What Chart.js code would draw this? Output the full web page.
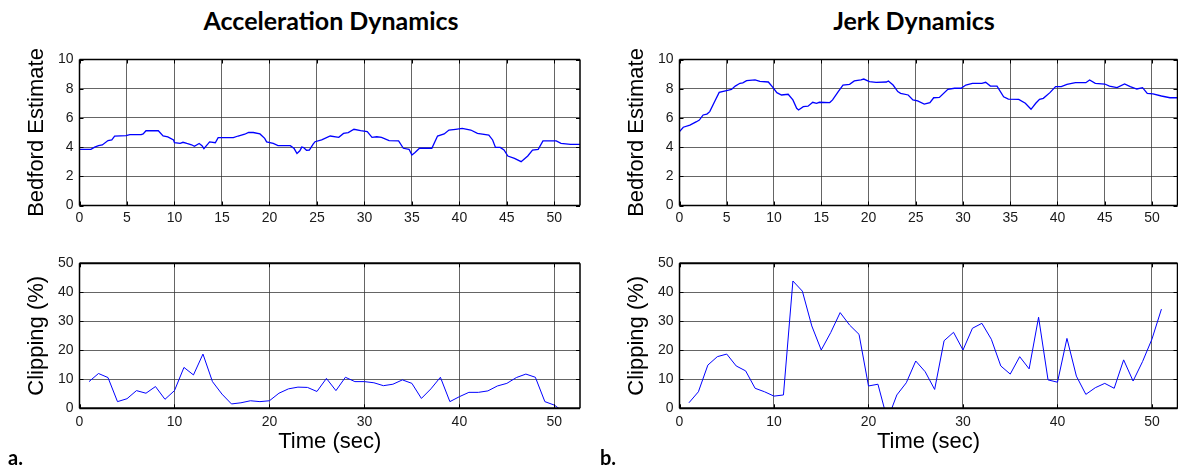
<!DOCTYPE html>
<html>
<head>
<meta charset="utf-8">
<script src="https://cdn.jsdelivr.net/npm/chart.js@4.4.1/dist/chart.umd.min.js"></script>
<style>
  body { margin: 0; background: #fff; }
  #wrap { position: relative; width: 1178px; height: 468px; overflow: hidden; }
  canvas { position: absolute; }
  .ttl { position: absolute; top: 0; width: 400px; height: 40px; text-align: center;
         font-family: Lato, sans-serif; font-weight: bold; font-size: 25px; line-height: 40px; color: #000; }
  .tag { position: absolute; top: 445px; font-family: Lato, sans-serif; font-weight: bold;
         font-size: 20px; line-height: 24px; color: #000; }
</style>
</head>
<body>
<div id="wrap">
  <div class="ttl" style="left:131px">Acceleration Dynamics</div>
  <div class="ttl" style="left:714px">Jerk Dynamics</div>
  <canvas id="accTop" width="590" height="190" style="left:0;top:40px"></canvas>
  <canvas id="jerkTop" width="578" height="190" style="left:600px;top:40px"></canvas>
  <canvas id="accBot" width="590" height="228" style="left:0;top:240px"></canvas>
  <canvas id="jerkBot" width="578" height="228" style="left:600px;top:240px"></canvas>
  <div class="tag" style="left:8px">a.</div>
  <div class="tag" style="left:600px">b.</div>
</div>
<script>
// Bedford estimate, acceleration dynamics (time in sec)
const accelTime = [0, 1.2, 1.6, 2.0, 2.4, 3.0, 3.4, 3.7, 4.9, 5.3, 6.5, 6.7, 7.0, 8.3, 8.8, 9.3, 9.9, 10.0,
  10.6, 10.9, 11.3, 11.8, 12.1, 12.6, 12.9, 13.1, 13.5, 13.7, 14.3, 14.6, 16.2, 16.7, 17.4, 17.8, 18.3,
  19.0, 19.5, 19.7, 20.4, 20.9, 22.2, 22.6, 22.9, 23.2, 23.4, 23.6, 23.9, 24.2, 24.6, 24.8, 25.5, 26.4,
  27.3, 27.8, 28.3, 28.9, 29.6, 30.3, 30.8, 31.3, 31.8, 32.6, 33.6, 34.1, 34.7, 35.0, 35.3, 35.8, 37.1,
  37.7, 38.4, 38.9, 39.6, 40.3, 41.2, 41.9, 43.1, 43.5, 43.8, 44.3, 44.7, 45.1, 45.8, 46.5, 47.2, 47.7,
  48.3, 48.8, 50.2, 50.7, 51.7, 52.7];
const accelBedford = [3.85, 3.85, 4.0, 4.1, 4.15, 4.45, 4.5, 4.75, 4.78, 4.85, 4.85, 4.9, 5.12, 5.12, 4.76,
  4.7, 4.49, 4.3, 4.25, 4.33, 4.25, 4.16, 4.05, 4.25, 4.1, 3.9, 4.2, 4.36, 4.3, 4.65, 4.65, 4.76, 4.88,
  5.0, 5.0, 4.9, 4.6, 4.36, 4.25, 4.1, 4.1, 3.9, 3.56, 3.75, 4.0, 3.97, 3.78, 3.8, 4.2, 4.37, 4.49, 4.76,
  4.67, 4.94, 4.99, 5.22, 5.13, 5.06, 4.67, 4.71, 4.67, 4.44, 4.42, 3.92, 3.85, 3.46, 3.62, 3.92, 3.92,
  4.76, 4.9, 5.17, 5.22, 5.28, 5.17, 4.94, 4.83, 4.49, 3.98, 3.98, 3.8, 3.39, 3.23, 3.0, 3.39, 3.8,
  3.85, 4.42, 4.42, 4.26, 4.19, 4.19];

// Bedford estimate, jerk dynamics
const jerkTime = [0, 0.4, 1.1, 1.8, 2.1, 2.5, 2.9, 3.2, 3.8, 4.2, 5.2, 5.5, 5.9, 6.4, 6.7, 7.1, 8.0, 8.5,
  9.4, 9.9, 10.3, 10.8, 11.5, 12.0, 12.4, 12.6, 13.1, 13.6, 14.1, 14.5, 14.8, 15.9, 16.2, 16.8, 17.3,
  18.0, 18.5, 19.2, 19.5, 20.1, 20.8, 21.9, 22.1, 22.6, 23.1, 23.4, 24.2, 24.7, 25.2, 25.9, 26.5, 26.9,
  27.5, 28.4, 29.1, 29.8, 30.3, 31.0, 32.0, 32.4, 32.9, 33.6, 34.3, 34.8, 35.9, 36.6, 37.2, 37.7, 38.1,
  38.5, 39.2, 39.8, 40.4, 41.0, 41.9, 43.0, 43.4, 44.0, 45.0, 45.5, 46.3, 47.1, 47.7, 48.4, 49.0, 49.5,
  50.1, 51.0, 51.9, 52.7];
const jerkBedford = [5.06, 5.36, 5.51, 5.74, 5.85, 6.2, 6.26, 6.43, 7.23, 7.75, 7.91, 7.95, 8.18, 8.37, 8.4,
  8.55, 8.6, 8.5, 8.46, 8.07, 7.73, 7.57, 7.62, 7.23, 6.66, 6.54, 6.77, 6.8, 7.07, 7.0, 7.07, 7.05, 7.23,
  7.8, 8.25, 8.3, 8.53, 8.6, 8.66, 8.48, 8.44, 8.46, 8.53, 8.25, 7.8, 7.68, 7.57, 7.23, 7.16, 6.95, 7.04,
  7.38, 7.4, 7.96, 8.03, 8.03, 8.25, 8.37, 8.37, 8.44, 8.18, 8.18, 7.45, 7.29, 7.27, 7.0, 6.59, 7.0, 7.27,
  7.34, 7.73, 8.14, 8.14, 8.3, 8.41, 8.41, 8.6, 8.37, 8.32, 8.18, 8.07, 8.32, 8.14, 7.98, 8.07, 7.68,
  7.64, 7.5, 7.38, 7.38];

// Clipping (%), one value per second
const clipTime = [1, 2, 3, 4, 5, 6, 7, 8, 9, 10, 11, 12, 13, 14, 15, 16, 17, 18, 19, 20, 21, 22, 23, 24, 25,
  26, 27, 28, 29, 30, 31, 32, 33, 34, 35, 36, 37, 38, 39, 40, 41, 42, 43, 44, 45, 46, 47, 48, 49, 50, 51];
const accelClip = [9.2, 12.0, 10.6, 2.3, 3.3, 6.1, 5.2, 7.5, 3.1, 6.1, 14.1, 11.5, 18.7, 9.2, 4.9, 1.5, 1.9,
  2.6, 2.3, 2.6, 5.2, 6.7, 7.3, 7.2, 5.8, 10.3, 6.1, 10.7, 9.2, 9.2, 8.8, 7.8, 8.3, 9.8, 8.6, 3.4, 6.7,
  10.7, 2.3, 4.0, 5.5, 5.5, 6.0, 7.7, 8.6, 10.6, 11.8, 10.7, 2.3, 1.1, -1.3];
const jerkClip = [1.9, 5.7, 14.9, 17.8, 18.7, 14.6, 12.9, 6.9, 5.7, 4.2, 4.6, 43.9, 40.4, 28.4, 20.1, 26.1,
  33.0, 28.7, 25.5, 7.7, 8.3, -4.0, 4.6, 8.8, 16.3, 12.6, 6.5, 23.3, 26.2, 20.1, 27.6, 29.3, 23.8, 14.6,
  11.8, 17.8, 13.6, 31.4, 9.8, 9.0, 24.1, 11.1, 4.8, 7.1, 8.6, 6.9, 16.7, 9.4, 16.1, 23.9, 34.2];

const bedfordTicks = [0, 2, 4, 6, 8, 10];
const clipTicks = [0, 10, 20, 30, 40, 50];
const timeTicksTop = [0, 5, 10, 15, 20, 25, 30, 35, 40, 45, 50];
const timeTicksBottom = [0, 10, 20, 30, 40, 50];
const timeMax = 52.7;

const axisFont = { family: "'Liberation Sans', Arial, sans-serif" };

// box around the plot with small inward tick marks (MATLAB style)
const frame = {
  id: 'frame',
  afterDraw(chart, args, opts) {
    const { ctx, chartArea: a, scales } = chart;
    ctx.save();
    ctx.strokeStyle = '#000';
    ctx.lineWidth = 1;
    ctx.beginPath();
    scales.x.ticks.forEach(t => {
      const p = Math.round(scales.x.getPixelForValue(t.value)) + 0.5;
      ctx.moveTo(p, a.top); ctx.lineTo(p, a.top + 4);
      ctx.moveTo(p, a.bottom); ctx.lineTo(p, a.bottom - 4);
    });
    scales.y.ticks.forEach(t => {
      const p = Math.round(scales.y.getPixelForValue(t.value)) + 0.5;
      ctx.moveTo(a.left, p); ctx.lineTo(a.left + 4, p);
      ctx.moveTo(a.right, p); ctx.lineTo(a.right - 4, p);
    });
    ctx.stroke();
    ctx.lineWidth = opts.h;
    ctx.beginPath();
    ctx.moveTo(a.left, a.top); ctx.lineTo(a.right, a.top);
    ctx.moveTo(a.left, a.bottom); ctx.lineTo(a.right, a.bottom);
    ctx.stroke();
    ctx.lineWidth = opts.v;
    ctx.beginPath();
    ctx.moveTo(a.left, a.top); ctx.lineTo(a.left, a.bottom);
    ctx.moveTo(a.right, a.top); ctx.lineTo(a.right, a.bottom);
    ctx.stroke();
    ctx.restore();
  }
};

function makeChart(id, xs, ys, o) {
  const ctx = document.getElementById(id).getContext('2d');
  return new Chart(ctx, {
    type: 'line',
    data: {
      datasets: [{
        data: xs.map((x, i) => ({ x: x, y: ys[i] })),
        borderColor: '#0000ff',
        borderWidth: o.lineWidth,
        pointRadius: 0,
        tension: 0,
        fill: false
      }]
    },
    plugins: [frame],
    options: {
      responsive: false,
      animation: false,
      layout: { padding: { left: 0, right: o.padRight, top: o.padTop, bottom: 0 } },
      plugins: {
        legend: { display: false },
        tooltip: { enabled: false },
        frame: { h: o.frameH, v: 1.5 }
      },
      scales: {
        x: {
          type: 'linear',
          min: 0,
          max: timeMax,
          afterBuildTicks: s => { s.ticks = o.xTicks.map(v => ({ value: v })); },
          afterFit: s => { s.height = o.xHeight; },
          border: { display: false },
          grid: { color: 'rgba(50,50,50,0.75)', lineWidth: 1, drawTicks: false },
          ticks: { padding: o.xPad, color: '#1a1a1a', maxRotation: 0, font: { ...axisFont, size: 14 } },
          title: {
            display: !!o.xTitle,
            text: o.xTitle,
            color: '#000',
            padding: { top: 0, bottom: 13.3 },
            font: { ...axisFont, size: 22 }
          }
        },
        y: {
          min: 0,
          max: o.yTicks[o.yTicks.length - 1],
          afterBuildTicks: s => { s.ticks = o.yTicks.map(v => ({ value: v })); },
          afterFit: s => { s.width = 79.5; },
          border: { display: false },
          grid: { color: 'rgba(50,50,50,0.75)', lineWidth: 1, drawTicks: false },
          ticks: { padding: 6, color: '#1a1a1a', font: { ...axisFont, size: 14 } },
          title: {
            display: true,
            text: o.yTitle,
            color: '#000',
            padding: { top: 23.8, bottom: 0 },
            font: { ...axisFont, size: 22 }
          }
        }
      }
    }
  });
}

const topOpts = { lineWidth: 1.3, padTop: 19.5, xHeight: 24.5, xPad: 4, frameH: 1.5,
  yTicks: bedfordTicks, xTicks: timeTicksTop, yTitle: 'Bedford Estimate', xTitle: '' };
const botOpts = { lineWidth: 1, padTop: 23.3, xHeight: 59.7, xPad: 5.5, frameH: 2,
  yTicks: clipTicks, xTicks: timeTicksBottom, yTitle: 'Clipping (%)', xTitle: 'Time (sec)' };

makeChart('accTop', accelTime, accelBedford, { ...topOpts, padRight: 10 });
makeChart('jerkTop', jerkTime, jerkBedford, { ...topOpts, padRight: 0.5 });
makeChart('accBot', clipTime, accelClip, { ...botOpts, padRight: 10 });
makeChart('jerkBot', clipTime, jerkClip, { ...botOpts, padRight: 0.5 });
</script>
</body>
</html>
